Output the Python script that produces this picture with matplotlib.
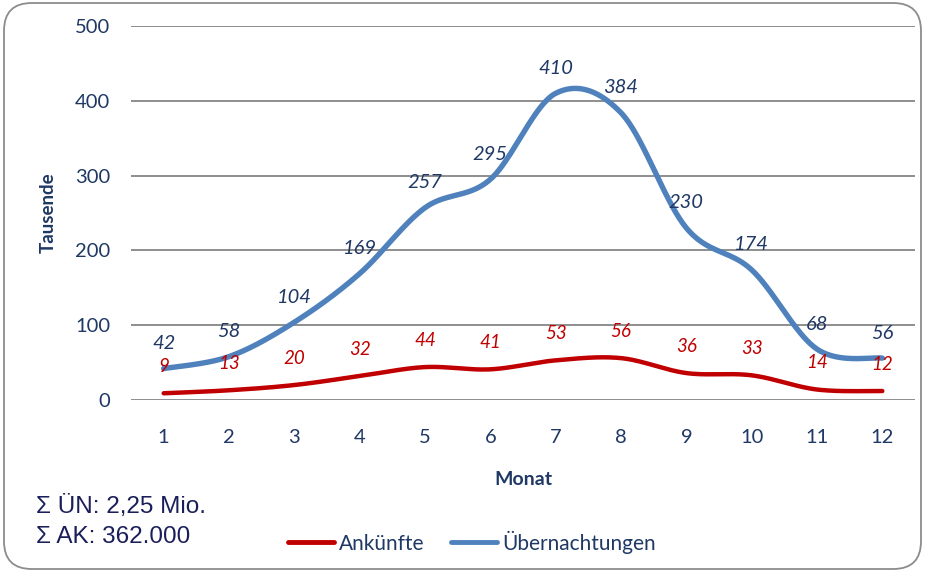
import numpy as np
import matplotlib
matplotlib.use("Agg")
import matplotlib.pyplot as plt
from matplotlib.patches import FancyBboxPatch
from matplotlib.lines import Line2D

months = [1, 2, 3, 4, 5, 6, 7, 8, 9, 10, 11, 12]
ankuenfte = [9, 13, 20, 32, 44, 41, 53, 56, 36, 33, 14, 12]
uebernachtungen = [42, 58, 104, 169, 257, 295, 410, 384, 230, 174, 68, 56]
y_ticks = [0, 100, 200, 300, 400, 500]

TEXT = "#1F3864"
RED = "#C00000"
BLUE = "#4F81BD"
GRID = "#868686"

plt.rcParams["font.family"] = ["Lato", "DejaVu Sans"]


def smooth(x, y, n=40):
    """Bezier smoothing through every point (Catmull-Rom style tangents)."""
    x = np.asarray(x, float)
    y = np.asarray(y, float)
    px = np.concatenate([[x[0]], x, [x[-1]]])
    py = np.concatenate([[y[0]], y, [y[-1]]])
    xs, ys = [], []
    t = np.linspace(0, 1, n)
    for i in range(1, len(px) - 2):
        p0 = np.array([px[i], py[i]])
        p3 = np.array([px[i + 1], py[i + 1]])
        c1 = p0 + (np.array([px[i + 1], py[i + 1]]) - np.array([px[i - 1], py[i - 1]])) / 6
        c2 = p3 - (np.array([px[i + 2], py[i + 2]]) - np.array([px[i], py[i]])) / 6
        b = ((1 - t) ** 3)[:, None] * p0 + (3 * (1 - t) ** 2 * t)[:, None] * c1 \
            + (3 * (1 - t) * t ** 2)[:, None] * c2 + (t ** 3)[:, None] * p3
        xs.append(b[:, 0])
        ys.append(b[:, 1])
    return np.concatenate(xs), np.concatenate(ys)


fig = plt.figure(figsize=(9.26, 5.72), dpi=100)
W, H = 926, 572

# rounded outer frame
frame = FancyBboxPatch((4 / W, 3 / H), 917 / W, 566 / H,
                       boxstyle="round,pad=0,rounding_size=0.03",
                       transform=fig.transFigure, facecolor="none",
                       edgecolor="#8C8C8C", linewidth=1.3, mutation_aspect=W / H,
                       zorder=-1)
fig.patches.append(frame)

ax = fig.add_axes([131 / W, 1 - 400 / H, (915 - 131) / W, (400 - 26) / H])
ax.set_facecolor("none")
ax.set_xlim(0.5, 12.5)
ax.set_ylim(0, 500)
ax.set_yticks(y_ticks)
ax.set_xticks(months)
for s in ax.spines.values():
    s.set_visible(False)
ax.tick_params(length=0, labelsize=14.5, colors=TEXT)
ax.tick_params(axis="x", pad=21)
ax.tick_params(axis="y", pad=15)
for v in y_ticks:
    ax.axhline(v, color=GRID, lw=1.3, zorder=1)

sx, sy = smooth(months, ankuenfte)
ax.plot(sx, sy, color=RED, lw=3.2, solid_capstyle="round", zorder=3)
sx, sy = smooth(months, uebernachtungen)
ax.plot(sx, sy, color=BLUE, lw=3.9, solid_capstyle="round", zorder=3)

for m, v in zip(months, uebernachtungen):
    ax.annotate(str(v), (m, v), xytext=(0, 25), textcoords="offset pixels",
                ha="center", va="center", fontsize=14.5, style="italic",
                color=TEXT, zorder=4)
for m, v in zip(months, ankuenfte):
    ax.annotate(str(v), (m, v), xytext=(0, 27), textcoords="offset pixels",
                ha="center", va="center", fontsize=13.5, style="italic",
                color=RED, zorder=4)

ax.set_ylabel("Tausende", fontsize=13.5, fontweight="bold", color=TEXT, labelpad=13)
ax.set_xlabel("Monat", fontsize=14, fontweight="bold", color=TEXT, labelpad=18)

# legend
handles = [Line2D([], [], color=RED, lw=3.5, solid_capstyle="round"),
           Line2D([], [], color=BLUE, lw=3.5, solid_capstyle="round")]
fig.legend(handles, ["Ankünfte", "Übernachtungen"], loc="center",
           bbox_to_anchor=(472 / W, 1 - 542 / H), ncol=2, frameon=False,
           fontsize=15, labelcolor=TEXT, handlelength=2.2, handletextpad=0.25,
           columnspacing=1.25)

fig.text(36 / W, 1 - 507 / H, "Σ ÜN: 2,25 Mio.", family="Liberation Sans",
         fontsize=17.5, color="#1A1F5A", va="center", ha="left")
fig.text(36 / W, 1 - 537 / H, "Σ AK: 362.000", family="Liberation Sans",
         fontsize=17.5, color="#1A1F5A", va="center", ha="left")

fig.savefig("out.png", dpi=100)
